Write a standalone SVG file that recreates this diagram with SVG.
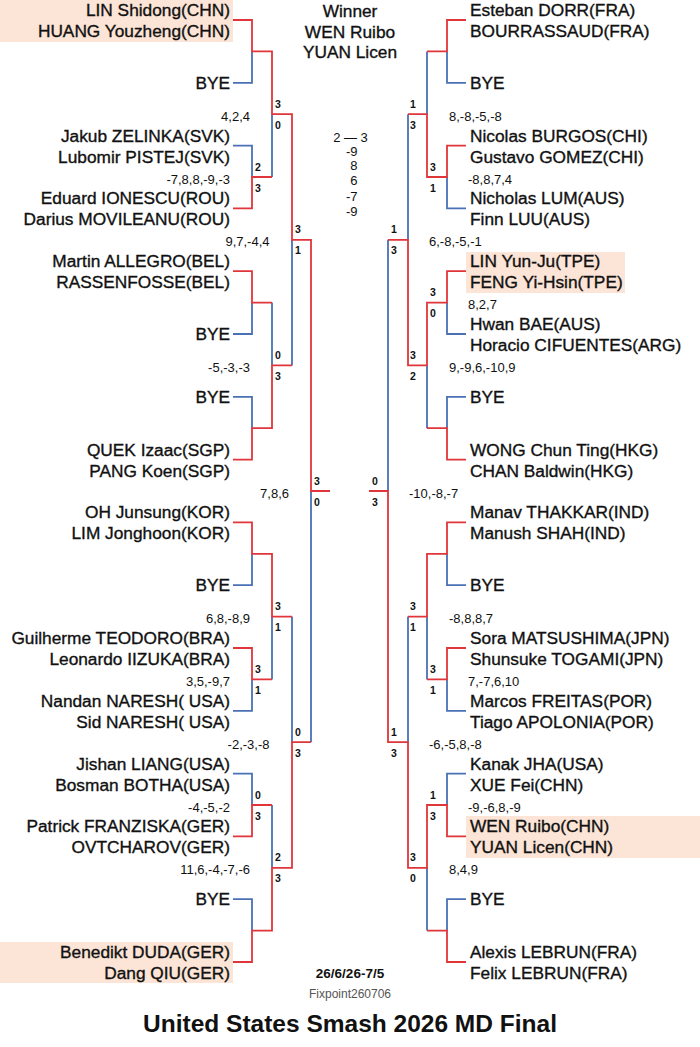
<svg xmlns="http://www.w3.org/2000/svg" width="700" height="1047" viewBox="0 0 700 1047">
<style>
.n{font-family:"Liberation Sans",Arial,sans-serif;font-size:17.3px;fill:#111;stroke:#111;stroke-width:0.35px}
.l{text-anchor:end}
.s{font-family:"Liberation Sans",Arial,sans-serif;font-size:13px;fill:#111}
.d{font-family:"Liberation Sans",Arial,sans-serif;font-size:10.5px;font-weight:bold;fill:#111}
.w{fill:none;stroke:#e0353a;stroke-width:1.8}
.b{fill:none;stroke:#4a70b6;stroke-width:1.8}
.h{fill:#fce4d6}
</style>
<rect width="700" height="1047" fill="#fff"/>
<g id="highlights">
<rect class="h" x="0" y="0" width="233" height="42"/>
<rect class="h" x="0" y="942" width="233" height="41"/>
<rect class="h" x="466" y="252" width="159" height="41"/>
<rect class="h" x="466" y="816" width="234" height="42"/>
</g>
<g id="connectors">
<path class="b" d="M233,82.8H252V51.4M233,145.6H252V177M272,177V114.2M272,302.6V365.4M233,334H252V302.6M233,396.8H252V428.2M292,365.4V239.8M292,616.6V742.2M233,585.2H252V553.8M272,679.4V616.6M233,710.8H252V679.4M233,773.6H252V805M272,805V867.8M233,899.2H252V930.6M311,742.2V491"/>
<path class="b" d="M427,51.4V114.2M466,82.8H447V51.4M408,114.2V239.8M466,208.4H447V177M388,239.8V491M466,334H447V302.6M466,396.8H447V428.2M427,428.2V365.4M408,616.6V742.2M466,585.2H447V553.8M427,679.4V616.6M466,710.8H447V679.4M466,773.6H447V805M466,899.2H447V930.6M427,930.6V867.8"/>
<path class="w" d="M233,20H252V51.4H272V114.2H292V239.8H311V491H330M233,208.4H252V177H272M233,271.2H252V302.6H272M233,459.6H252V428.2H272V365.4H292M233,522.4H252V553.8H272V616.6H292M233,648H252V679.4H272M233,836.4H252V805H272M233,962H252V930.6H272V867.8H292V742.2H311"/>
<path class="w" d="M466,20H447V51.4H427M466,145.6H447V177H427V114.2H408M466,271.2H447V302.6H427V365.4H408V239.8H388M466,459.6H447V428.2H427M466,522.4H447V553.8H427V616.6H408M466,648H447V679.4H427M466,836.4H447V805H427V867.8H408V742.2H388V491H369M466,962H447V930.6H427"/>
</g>
<g id="winner">
<text class="n" x="350" y="17" text-anchor="middle">Winner</text>
<text class="n" x="350" y="38" text-anchor="middle">WEN Ruibo</text>
<text class="n" x="350" y="58" text-anchor="middle">YUAN Licen</text>
</g>
<g id="final-score" class="s">
<text x="350.5" y="141.5" text-anchor="middle">2 — 3</text>
<text x="357.5" y="155.5" text-anchor="end">-9</text>
<text x="357.5" y="170" text-anchor="end">8</text>
<text x="357.5" y="185" text-anchor="end">6</text>
<text x="357.5" y="200.5" text-anchor="end">-7</text>
<text x="357.5" y="215.5" text-anchor="end">-9</text>
</g>
<g id="left-entries">
<g id="L1"><text class="n l" x="230" y="16">LIN Shidong(CHN)</text><text class="n l" x="230" y="37">HUANG Youzheng(CHN)</text></g>
<g id="L2"><text class="n l" x="230" y="89">BYE</text></g>
<g id="L3"><text class="n l" x="230" y="141.6">Jakub ZELINKA(SVK)</text><text class="n l" x="230" y="162.6">Lubomir PISTEJ(SVK)</text></g>
<g id="L4"><text class="n l" x="230" y="204.4">Eduard IONESCU(ROU)</text><text class="n l" x="230" y="225.4">Darius MOVILEANU(ROU)</text></g>
<g id="L5"><text class="n l" x="230" y="267.2">Martin ALLEGRO(BEL)</text><text class="n l" x="230" y="288.2">RASSENFOSSE(BEL)</text></g>
<g id="L6"><text class="n l" x="230" y="340.2">BYE</text></g>
<g id="L7"><text class="n l" x="230" y="403">BYE</text></g>
<g id="L8"><text class="n l" x="230" y="455.6">QUEK Izaac(SGP)</text><text class="n l" x="230" y="476.6">PANG Koen(SGP)</text></g>
<g id="L9"><text class="n l" x="230" y="518.4">OH Junsung(KOR)</text><text class="n l" x="230" y="539.4">LIM Jonghoon(KOR)</text></g>
<g id="L10"><text class="n l" x="230" y="591.4">BYE</text></g>
<g id="L11"><text class="n l" x="230" y="644">Guilherme TEODORO(BRA)</text><text class="n l" x="230" y="665">Leonardo IIZUKA(BRA)</text></g>
<g id="L12"><text class="n l" x="230" y="706.8">Nandan NARESH( USA)</text><text class="n l" x="230" y="727.8">Sid NARESH( USA)</text></g>
<g id="L13"><text class="n l" x="230" y="769.6">Jishan LIANG(USA)</text><text class="n l" x="230" y="790.6">Bosman BOTHA(USA)</text></g>
<g id="L14"><text class="n l" x="230" y="832.4">Patrick FRANZISKA(GER)</text><text class="n l" x="230" y="853.4">OVTCHAROV(GER)</text></g>
<g id="L15"><text class="n l" x="230" y="905.4">BYE</text></g>
<g id="L16"><text class="n l" x="230" y="958">Benedikt DUDA(GER)</text><text class="n l" x="230" y="979">Dang QIU(GER)</text></g>
</g>
<g id="right-entries">
<g id="R1"><text class="n" x="470" y="16">Esteban DORR(FRA)</text><text class="n" x="470" y="37">BOURRASSAUD(FRA)</text></g>
<g id="R2"><text class="n" x="470" y="89">BYE</text></g>
<g id="R3"><text class="n" x="470" y="141.6">Nicolas BURGOS(CHI)</text><text class="n" x="470" y="162.6">Gustavo GOMEZ(CHI)</text></g>
<g id="R4"><text class="n" x="470" y="204.4">Nicholas LUM(AUS)</text><text class="n" x="470" y="225.4">Finn LUU(AUS)</text></g>
<g id="R5"><text class="n" x="470" y="267.2">LIN Yun-Ju(TPE)</text><text class="n" x="470" y="288.2">FENG Yi-Hsin(TPE)</text></g>
<g id="R6"><text class="n" x="470" y="330">Hwan BAE(AUS)</text><text class="n" x="470" y="351">Horacio CIFUENTES(ARG)</text></g>
<g id="R7"><text class="n" x="470" y="403">BYE</text></g>
<g id="R8"><text class="n" x="470" y="455.6">WONG Chun Ting(HKG)</text><text class="n" x="470" y="476.6">CHAN Baldwin(HKG)</text></g>
<g id="R9"><text class="n" x="470" y="518.4">Manav THAKKAR(IND)</text><text class="n" x="470" y="539.4">Manush SHAH(IND)</text></g>
<g id="R10"><text class="n" x="470" y="591.4">BYE</text></g>
<g id="R11"><text class="n" x="470" y="644">Sora MATSUSHIMA(JPN)</text><text class="n" x="470" y="665">Shunsuke TOGAMI(JPN)</text></g>
<g id="R12"><text class="n" x="470" y="706.8">Marcos FREITAS(POR)</text><text class="n" x="470" y="727.8">Tiago APOLONIA(POR)</text></g>
<g id="R13"><text class="n" x="470" y="769.6">Kanak JHA(USA)</text><text class="n" x="470" y="790.6">XUE Fei(CHN)</text></g>
<g id="R14"><text class="n" x="470" y="832.4">WEN Ruibo(CHN)</text><text class="n" x="470" y="853.4">YUAN Licen(CHN)</text></g>
<g id="R15"><text class="n" x="470" y="905.4">BYE</text></g>
<g id="R16"><text class="n" x="470" y="958">Alexis LEBRUN(FRA)</text><text class="n" x="470" y="979">Felix LEBRUN(FRA)</text></g>
</g>
<g id="left-scores">
<text class="s" x="250" y="120.7" text-anchor="end">4,2,4</text><text class="d" x="275" y="107.7">3</text><text class="d" x="275" y="128.7">0</text>
<text class="s" x="230" y="183.5" text-anchor="end">-7,8,8,-9,-3</text><text class="d" x="255" y="170.5">2</text><text class="d" x="255" y="191.5">3</text>
<text class="s" x="269.5" y="246.3" text-anchor="end">9,7,-4,4</text><text class="d" x="295" y="233.3">3</text><text class="d" x="295" y="254.3">1</text>
<text class="s" x="250" y="371.9" text-anchor="end">-5,-3,-3</text><text class="d" x="275" y="358.9">0</text><text class="d" x="275" y="379.9">3</text>
<text class="s" x="289" y="497.5" text-anchor="end">7,8,6</text><text class="d" x="314" y="484.5">3</text><text class="d" x="314" y="505.5">0</text>
<text class="s" x="250" y="623.1" text-anchor="end">6,8,-8,9</text><text class="d" x="275" y="610.1">3</text><text class="d" x="275" y="631.1">1</text>
<text class="s" x="230" y="685.9" text-anchor="end">3,5,-9,7</text><text class="d" x="255" y="672.9">3</text><text class="d" x="255" y="693.9">1</text>
<text class="s" x="269.5" y="748.7" text-anchor="end">-2,-3,-8</text><text class="d" x="295" y="735.7">0</text><text class="d" x="295" y="756.7">3</text>
<text class="s" x="230" y="811.5" text-anchor="end">-4,-5,-2</text><text class="d" x="255" y="798.5">0</text><text class="d" x="255" y="819.5">3</text>
<text class="s" x="250" y="874.3" text-anchor="end">11,6,-4,-7,-6</text><text class="d" x="275" y="861.3">2</text><text class="d" x="275" y="882.3">3</text>
</g>
<g id="right-scores">
<text class="s" x="449" y="120.7">8,-8,-5,-8</text><text class="d" x="410" y="107.7">1</text><text class="d" x="410" y="128.7">3</text>
<text class="s" x="468" y="183.5">-8,8,7,4</text><text class="d" x="430" y="170.5">3</text><text class="d" x="430" y="191.5">1</text>
<text class="s" x="429" y="246.3">6,-8,-5,-1</text><text class="d" x="391" y="233.3">1</text><text class="d" x="391" y="254.3">3</text>
<text class="s" x="468" y="309.1">8,2,7</text><text class="d" x="430" y="296.1">3</text><text class="d" x="430" y="317.1">0</text>
<text class="s" x="449" y="371.9">9,-9,6,-10,9</text><text class="d" x="410" y="358.9">3</text><text class="d" x="410" y="379.9">2</text>
<text class="s" x="409" y="497.5">-10,-8,-7</text><text class="d" x="372" y="484.5">0</text><text class="d" x="372" y="505.5">3</text>
<text class="s" x="449" y="623.1">-8,8,8,7</text><text class="d" x="410" y="610.1">3</text><text class="d" x="410" y="631.1">1</text>
<text class="s" x="468" y="685.9">7,-7,6,10</text><text class="d" x="430" y="672.9">3</text><text class="d" x="430" y="693.9">1</text>
<text class="s" x="429" y="748.7">-6,-5,8,-8</text><text class="d" x="391" y="735.7">1</text><text class="d" x="391" y="756.7">3</text>
<text class="s" x="468" y="811.5">-9,-6,8,-9</text><text class="d" x="430" y="798.5">1</text><text class="d" x="430" y="819.5">3</text>
<text class="s" x="449" y="874.3">8,4,9</text><text class="d" x="410" y="861.3">3</text><text class="d" x="410" y="882.3">0</text>
</g>
<g id="footer">
<text x="350" y="977.5" text-anchor="middle" font-family="Liberation Sans, Arial, sans-serif" font-size="13.5" font-weight="bold" fill="#111">26/6/26-7/5</text>
<text x="350" y="997.5" text-anchor="middle" font-family="Liberation Sans, Arial, sans-serif" font-size="12" fill="#555">Fixpoint260706</text>
<text x="350" y="1032" text-anchor="middle" font-family="Liberation Sans, Arial, sans-serif" font-size="24.5" font-weight="bold" fill="#111">United States Smash 2026 MD Final</text>
</g>
</svg>
